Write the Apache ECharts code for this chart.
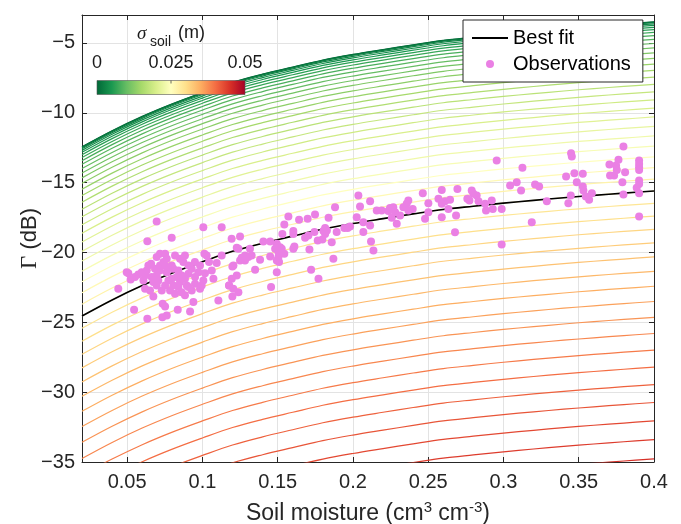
<!DOCTYPE html>
<html>
<head>
<meta charset="utf-8">
<script src="https://cdn.jsdelivr.net/npm/echarts@6/dist/echarts.min.js"></script>
<style>
  html, body { margin: 0; padding: 0; background: #fff; }
  #chart { width: 681px; height: 524px; }
</style>
</head>
<body>
<div id="chart"></div>
<script>
// Soil moisture sample points used for the model curves (cm3 cm-3)
const moisture = [0.02, 0.04, 0.06, 0.08, 0.10, 0.12, 0.14, 0.16, 0.18, 0.20,
  0.22, 0.24, 0.26, 0.28, 0.30, 0.32, 0.34, 0.36, 0.38, 0.40];

// Smooth-surface reflectivity (sigma_soil = 0), dB
const bareSoilDb = [-12.44, -11.29, -10.26, -9.36, -8.56, -7.81, -7.23, -6.72, -6.22, -5.82,
  -5.47, -5.13, -4.81, -4.58, -4.36, -4.16, -3.97, -3.80, -3.64, -3.49];

// Best-fit reflectivity curve, dB
const bestFitDb = [-24.55, -23.40, -22.37, -21.47, -20.67, -19.92, -19.34, -18.83, -18.33, -17.93,
  -17.58, -17.24, -16.92, -16.69, -16.47, -16.27, -16.08, -15.91, -15.75, -15.60];

// Surface roughness levels (m) and the reflectivity loss each one causes (dB)
const sigmaLevels = [0, 0.001, 0.002, 0.003, 0.004, 0.005, 0.006, 0.007, 0.008, 0.009,
  0.010, 0.011, 0.012, 0.013, 0.014, 0.015, 0.016, 0.017, 0.018, 0.019,
  0.020, 0.021, 0.022, 0.023, 0.024, 0.025, 0.026, 0.027, 0.028, 0.029,
  0.030, 0.031, 0.032, 0.033, 0.034, 0.035, 0.036, 0.037, 0.038, 0.039,
  0.040, 0.041, 0.042, 0.043, 0.044, 0.045, 0.046, 0.047, 0.048, 0.049, 0.050];
const roughnessLossDb = [0, 0.02, 0.06, 0.14, 0.25, 0.39, 0.56, 0.76, 0.99, 1.25,
  1.55, 1.87, 2.22, 2.61, 3.03, 3.48, 3.96, 4.47, 5.01, 5.58,
  6.18, 6.81, 7.48, 8.17, 8.90, 9.66, 10.44, 11.26, 12.11, 12.99,
  13.91, 14.85, 15.82, 16.83, 17.86, 18.93, 20.02, 21.15, 22.31, 23.50,
  24.72, 25.97, 27.25, 28.57, 29.91, 31.29, 32.69, 34.13, 35.60, 37.10, 38.63];

// Observations: [soil moisture, reflectivity dB]
const observations = [
  [0.0696,-17.78],[0.0634,-19.19],[0.0796,-18.95],[0.1006,-18.19],[0.1128,-18.19],[0.1194,-19.02],
  [0.0441,-22.60],[0.0546,-24.10],[0.0634,-24.74],[0.0734,-24.63],[0.0763,-24.51],[0.0836,-24.10],
  [0.0918,-24.22],[0.0940,-23.55],[0.1106,-23.43],[0.0674,-23.15],[0.0736,-23.67],[0.0752,-23.86],
  [0.1177,-22.36],[0.1199,-23.15],[0.0508,-21.48],[0.0523,-21.93],[0.0497,-21.41],[0.0552,-21.76],
  [0.0574,-21.57],[0.0597,-21.41],[0.0619,-21.64],[0.0641,-20.93],[0.0659,-20.81],[0.0696,-20.33],
  [0.0718,-20.10],[0.0752,-20.10],[0.0741,-20.69],[0.0818,-20.21],[0.0884,-20.21],[0.0950,-20.69],
  [0.1013,-20.10],[0.1028,-20.21],[0.1044,-20.69],[0.1095,-20.76],[0.1062,-21.29],[0.1073,-21.88],
  [0.1017,-21.48],[0.0995,-22.36],[0.0984,-22.60],[0.0951,-22.24],[0.0929,-22.72],[0.0896,-22.36],
  [0.0862,-22.84],[0.0884,-23.07],[0.0818,-22.96],[0.0785,-22.72],[0.0752,-22.36],[0.0730,-22.72],
  [0.0696,-22.36],[0.0674,-22.12],[0.0652,-22.72],[0.0619,-22.60],[0.0608,-22.00],[0.0663,-21.76],
  [0.0696,-21.64],[0.0718,-21.29],[0.0763,-21.41],[0.0785,-21.05],[0.0807,-21.17],[0.0840,-21.29],
  [0.0862,-21.64],[0.0829,-21.76],[0.0796,-21.88],[0.0774,-22.00],[0.0851,-22.12],[0.0884,-21.88],
  [0.0907,-21.52],[0.0929,-21.17],[0.0973,-21.41],[0.0907,-20.93],[0.0984,-20.93],[0.0796,-20.93],
  [0.0718,-20.93],[0.0707,-22.00],[0.0807,-22.36],[0.0840,-22.48],[0.0907,-22.48],[0.0951,-21.76],
  [0.1006,-22.00],[0.0685,-21.17],[0.0630,-21.29],[0.0873,-20.69],[0.0763,-20.45],[0.0851,-20.45],
  [0.0752,-20.93],[0.1206,-20.93],[0.1195,-21.88],[0.1128,-20.21],
  [0.1250,-18.85],[0.1228,-19.67],[0.1239,-19.74],[0.1283,-20.21],[0.1261,-20.38],[0.1250,-20.57],
  [0.1283,-20.57],[0.1316,-19.74],[0.1327,-20.21],[0.1305,-20.33],[0.1383,-20.52],[0.1350,-21.24],
  [0.1199,-21.00],[0.1228,-21.64],[0.1177,-22.36],[0.1205,-22.60],[0.1239,-22.84],[0.1405,-19.21],
  [0.1450,-19.21],[0.1494,-19.38],[0.1516,-19.62],[0.1483,-19.74],[0.1505,-19.98],[0.1527,-19.74],
  [0.1505,-20.33],[0.1494,-20.57],[0.1509,-20.69],[0.1450,-20.29],[0.1544,-20.10],[0.1494,-21.41],
  [0.1456,-22.48],[0.1611,-19.57],[0.1604,-19.74],[0.1531,-18.67],[0.1544,-18.00],[0.1571,-17.42],
  [0.1642,-17.66],[0.1699,-17.59],[0.1748,-17.28],[0.1604,-18.47],[0.1604,-18.67],[0.1682,-18.95],
  [0.1704,-18.78],[0.1744,-18.54],[0.1711,-19.79],[0.1722,-21.24],[0.1771,-21.88],[0.1766,-19.14],
  [0.1797,-19.07],[0.1815,-18.24],[0.1804,-18.47],[0.1827,-18.43],[0.1838,-17.52],[0.1859,-19.26],
  [0.1870,-20.45],[0.1881,-16.76],[0.1892,-18.54],[0.1815,-18.67],[0.1943,-18.24],[0.1965,-18.24],
  [0.1981,-18.14],[0.2025,-17.47],[0.2036,-15.92],[0.2047,-16.71],[0.2069,-17.83],[0.2069,-18.54],
  [0.2114,-16.33],[0.2114,-18.07],[0.2120,-19.21],[0.2136,-19.86],
  [0.2158,-16.99],[0.2191,-16.99],[0.2235,-17.04],[0.2246,-16.81],[0.2268,-16.76],[0.2280,-17.12],
  [0.2258,-17.52],[0.2291,-17.95],[0.2313,-17.35],[0.2335,-16.76],[0.2357,-16.52],[0.2368,-16.28],
  [0.2368,-16.99],[0.2397,-16.88],[0.2464,-15.76],[0.2479,-17.59],[0.2501,-17.12],[0.2501,-16.47],
  [0.2568,-16.16],[0.2590,-15.52],[0.2590,-16.52],[0.2590,-17.47],[0.2612,-16.33],[0.2634,-16.88],
  [0.2645,-16.23],[0.2678,-18.55],[0.2685,-17.35],[0.2694,-15.45],[0.2760,-16.16],[0.2774,-16.28],
  [0.2789,-15.57],[0.2800,-15.80],[0.2822,-15.92],[0.2834,-16.33],[0.2878,-16.52],[0.2884,-16.99],
  [0.2922,-16.28],[0.2929,-16.88],[0.2955,-13.42],[0.2988,-16.88],[0.2988,-19.43],[0.3044,-15.21],
  [0.3088,-14.97],
  [0.3126,-13.94],[0.3117,-15.56],[0.3210,-15.14],[0.3237,-15.28],[0.3288,-16.33],[0.3188,-17.83],
  [0.3416,-14.56],[0.3431,-16.47],[0.3447,-15.92],[0.3449,-12.89],[0.3454,-13.13],[0.3471,-14.33],
  [0.3487,-14.97],[0.3527,-14.37],[0.3527,-15.28],[0.3531,-15.56],[0.3547,-15.99],[0.3569,-16.23],
  [0.3587,-15.76],[0.3704,-13.71],[0.3708,-14.49],[0.3735,-14.49],[0.3748,-13.78],[0.3753,-14.09],
  [0.3764,-13.37],[0.3797,-12.42],[0.3790,-14.97],[0.3808,-14.25],[0.3797,-15.85],[0.3885,-15.37],
  [0.3901,-13.42],[0.3901,-13.66],[0.3901,-13.90],[0.3901,-14.09],[0.3901,-14.85],[0.3901,-15.09],
  [0.3901,-15.76],[0.3901,-17.42]
];

// Axis ticks
const xTicks = [0.05, 0.10, 0.15, 0.20, 0.25, 0.30, 0.35, 0.40];
const colorbarTicks = [0, 0.025, 0.05];

// Green-yellow-red colormap for sigma_soil
const colormap = ['#006837', '#1a9850', '#66bd63', '#a6d96a', '#d9ef8b', '#ffffbf',
  '#fee08b', '#fdae61', '#f46d43', '#d73027', '#a50026'];
const sigmaMax = 0.05;

function hexToRgb(h) {
  const n = parseInt(h.slice(1), 16);
  return [(n >> 16) & 255, (n >> 8) & 255, n & 255];
}
function colorAt(t) {
  t = Math.max(0, Math.min(1, t));
  const p = t * (colormap.length - 1);
  const i = Math.min(Math.floor(p), colormap.length - 2);
  const f = p - i;
  const a = hexToRgb(colormap[i]), b = hexToRgb(colormap[i + 1]);
  const c = a.map((v, k) => Math.round(v + (b[k] - v) * f));
  return `rgb(${c[0]},${c[1]},${c[2]})`;
}

// Tick labels use a true minus sign
const minusLabel = v => String(+Number(v).toFixed(2)).replace('-', '\u2212');

const FONT = 'Liberation Sans';
const AXIS_COLOR = '#262626';

const contourSeries = sigmaLevels.map((s, i) => ({
  name: 'sigma ' + s,
  type: 'line',
  data: moisture.map((m, k) => [m, bareSoilDb[k] - roughnessLossDb[i]]),
  symbol: 'none',
  smooth: 0.35,
  silent: true,
  clip: true,
  lineStyle: { color: colorAt(s / sigmaMax), width: 1.2 },
  z: 2
}));

const chart = echarts.init(document.getElementById('chart'), null, { renderer: 'canvas' });

const plotLeft = 82, plotRight = 654, plotTop = 15, plotBottom = 462;

// Colorbar geometry
const cb = { x: 97, y: 80.5, w: 148, h: 14 };

const option = {
  animation: false,
  backgroundColor: '#fff',
  textStyle: { fontFamily: FONT },
  grid: {
    left: plotLeft, right: 681 - plotRight, top: plotTop, bottom: 524 - plotBottom,
    containLabel: false,
    outerBoundsMode: 'none',
    show: false
  },
  legend: {
    orient: 'vertical',
    left: 463, top: 20,
    padding: [8, 12, 8, 8],
    itemGap: 6,
    itemWidth: 36,
    itemHeight: 8,
    backgroundColor: '#fff',
    borderColor: AXIS_COLOR,
    borderWidth: 1,
    borderRadius: 0,
    textStyle: { fontSize: 20, fontFamily: FONT, color: '#000', lineHeight: 19 },
    data: [
      { name: 'Best fit', itemStyle: { opacity: 0 } },
      { name: 'Observations', icon: 'circle' }
    ],
    z: 20
  },
  xAxis: [{
    type: 'value', min: 0.02, max: 0.4, position: 'bottom',
    name: '{n|Soil moisture (cm}{s|3}{n| cm}{s|-3}{n|)}',
    nameLocation: 'middle', nameGap: 38,
    nameTextStyle: {
      rich: {
        n: { fontSize: 23, fontFamily: FONT, color: '#262626', lineHeight: 25, verticalAlign: 'bottom' },
        s: { fontSize: 15, fontFamily: FONT, color: '#262626', lineHeight: 25, verticalAlign: 'top' }
      }
    },
    axisLine: { show: true, onZero: false, lineStyle: { color: AXIS_COLOR, width: 1 } },
    axisTick: { show: true, inside: true, length: 5, customValues: xTicks, lineStyle: { color: AXIS_COLOR } },
    axisLabel: { customValues: xTicks, fontSize: 20, color: '#262626', margin: 10, formatter: minusLabel },
    splitLine: { show: true, lineStyle: { color: '#e3e3e3', width: 1 } }
  }, {
    type: 'value', min: 0.02, max: 0.4, position: 'top',
    axisLine: { show: true, onZero: false, lineStyle: { color: AXIS_COLOR, width: 1 } },
    axisTick: { show: true, inside: true, length: 5, customValues: xTicks, lineStyle: { color: AXIS_COLOR } },
    axisLabel: { show: false },
    splitLine: { show: false }
  }],
  yAxis: [{
    type: 'value', min: -35, max: -3, interval: 5, position: 'left',
    name: '{g|Γ}{n| (dB)}',
    nameLocation: 'middle', nameGap: 41,
    nameMoveOverlap: false,
    nameTextStyle: {
      rich: {
        g: { fontSize: 23, fontFamily: 'Liberation Serif', color: '#262626' },
        n: { fontSize: 22, fontFamily: FONT, color: '#262626' }
      }
    },
    axisLine: { show: true, onZero: false, lineStyle: { color: AXIS_COLOR, width: 1 } },
    axisTick: { show: true, inside: true, length: 5, lineStyle: { color: AXIS_COLOR } },
    axisLabel: { fontSize: 20, color: '#262626', margin: 7, showMaxLabel: false, formatter: minusLabel },
    splitLine: { show: true, lineStyle: { color: '#e3e3e3', width: 1 } }
  }, {
    type: 'value', min: -35, max: -3, interval: 5, position: 'right',
    axisLine: { show: true, onZero: false, lineStyle: { color: AXIS_COLOR, width: 1 } },
    axisTick: { show: true, inside: true, length: 5, lineStyle: { color: AXIS_COLOR } },
    axisLabel: { show: false },
    splitLine: { show: false }
  }],
  series: [
    ...contourSeries,
    {
      name: 'Best fit',
      type: 'line',
      data: moisture.map((m, k) => [m, bestFitDb[k]]),
      symbol: 'none',
      smooth: 0.35,
      lineStyle: { color: '#000', width: 1.6 },
      itemStyle: { color: '#000' },
      z: 3
    },
    {
      name: 'Observations',
      type: 'scatter',
      data: observations,
      symbol: 'circle',
      symbolSize: 8,
      itemStyle: { color: '#ea80e4', opacity: 1 },
      z: 4
    }
  ],
  graphic: [
    {
      type: 'rect', z: 100,
      shape: { x: cb.x, y: cb.y, width: cb.w, height: cb.h },
      style: {
        fill: new echarts.graphic.LinearGradient(0, 0, 1, 0,
          colormap.map((c, i) => ({ offset: i / (colormap.length - 1), color: c }))),
        stroke: '#555', lineWidth: 0.6
      }
    },
    {
      type: 'line', z: 101,
      shape: { x1: cb.x + cb.w / 2, y1: cb.y, x2: cb.x + cb.w / 2, y2: cb.y + 3 },
      style: { stroke: '#444', lineWidth: 0.8 }
    },
    ...colorbarTicks.map(t => ({
      type: 'text', z: 101,
      x: cb.x + (t / sigmaMax) * cb.w, y: 63,
      style: { text: String(t), font: `18px "${FONT}"`, fill: '#1a1a1a', align: 'center', verticalAlign: 'middle' }
    })),
    {
      type: 'text', z: 101, x: 137, y: 34,
      style: { text: 'σ', font: 'italic 19px "Liberation Serif"', fill: '#1a1a1a', align: 'left', verticalAlign: 'middle' }
    },
    {
      type: 'text', z: 101, x: 150, y: 42,
      style: { text: 'soil', font: `14px "${FONT}"`, fill: '#1a1a1a', align: 'left', verticalAlign: 'middle' }
    },
    {
      type: 'text', z: 101, x: 178, y: 33,
      style: { text: '(m)', font: `18px "${FONT}"`, fill: '#1a1a1a', align: 'left', verticalAlign: 'middle' }
    }
  ]
};

chart.setOption(option);
</script>
</body>
</html>
